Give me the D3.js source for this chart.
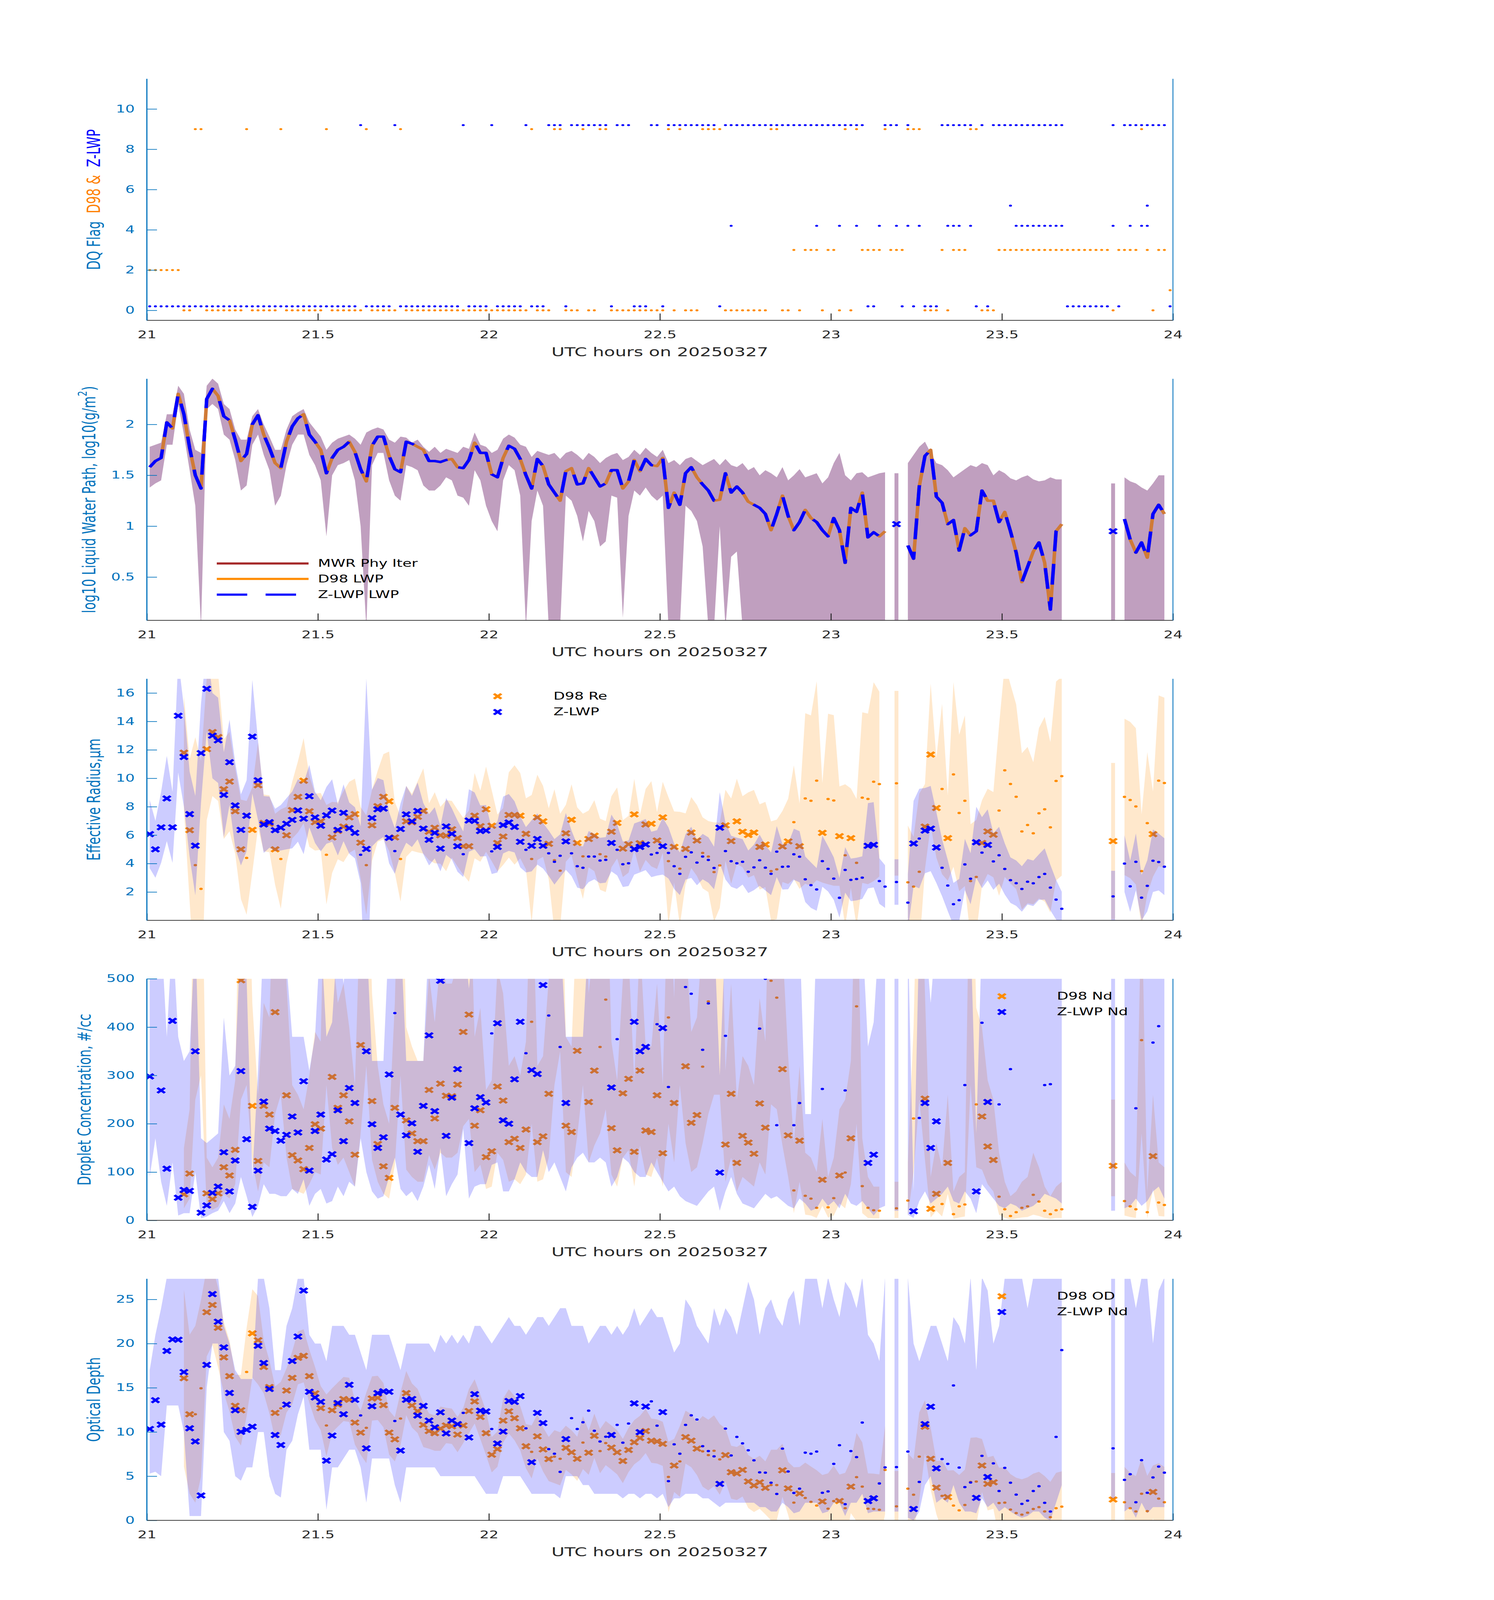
<!DOCTYPE html>
<html>
<head>
<meta charset="utf-8">
<title>DQ flag, LWP, Re, Nd and OD, 20250327</title>
<script src="https://cdn.jsdelivr.net/npm/d3@7"></script>
<style>
  html, body { margin: 0; padding: 0; background: #fff; overflow: hidden; }
  svg { display: block; }
</style>
</head>
<body>
<svg id="fig" width="3825" height="6000" viewBox="0 0 3825 6000" preserveAspectRatio="none"></svg>
<script>
// one sample per minute, 21:00 - 23:59 UTC (180 samples, index = minute)
const xTicks = [21, 21.5, 22, 22.5, 23, 23.5, 24];
const flagTicks = [0, 2, 4, 6, 8, 10];
const lwpTicks = [0.5, 1, 1.5, 2];
const reTicks = [2, 4, 6, 8, 10, 12, 14, 16];
const ndTicks = [0, 100, 200, 300, 400, 500];
const odTicks = [0, 5, 10, 15, 20, 25];

// data quality flags
const d98Flag = [
  2,2,2,2,2,2,0,0,9,9, 0,0,0,0,0,0,0,9,0,0, 0,0,0,9,0,0,0,0,0,0,
  0,9,0,0,0,0,0,0,9,0, 0,0,0,0,9,0,0,0,0,0, 0,0,0,0,0,0,0,0,0,0,
  0,0,0,0,0,0,0,9,0,0, 0,9,9,0,0,0,9,0,0,9, 9,0,0,0,0,0,0,0,0,0,
  0,9,0,9,0,0,0,9,9,9, 9,0,0,0,0,0,0,0,0,9, 9,0,0,3,0,3,3,3,0,3,
  3,0,9,0,9,3,3,3,3,9, 3,3,3,9,9,9,0,0,0,3, 0,3,3,3,9,9,0,0,0,3,
  3,3,3,3,3,3,3,3,3,3, 3,3,3,3,3,3,3,3,3,0, 3,3,3,3,9,3,0,3,3,1
];
const zFlag = [
  0,0,0,0,0,0,0,0,0,0, 0,0,0,0,0,0,0,0,0,0, 0,0,0,0,0,0,0,0,0,0,
  0,0,0,0,0,0,0,9,0,0, 0,0,0,9,0,0,0,0,0,0, 0,0,0,0,0,9,0,0,0,0,
  9,0,0,0,0,0,9,0,0,0, 9,9,9,0,9,9,9,9,9,9, 9,0,9,9,9,0,0,0,9,9,
  0,9,9,9,9,9,9,9,9,9, 0,9,4,9,9,9,9,9,9,9, 9,9,9,9,9,9,9,4,9,9,
  9,4,9,9,4,9,0,0,4,9, 9,4,0,4,0,4,0,0,0,9, 4,4,4,9,4,0,9,0,9,9,
  9,5,4,4,4,4,4,4,4,4, 4,0,0,0,0,0,0,0,0,9, 0,9,9,9,9,9,9,9,9,0
];
// minutes where Z-LWP carries a second flag
const zFlagExtraMin = [102,117,121,124,131,133,140,141,142,144,151,152,153,154,155,156,157,158,159,160,169,172,174,175,175];
const zFlagExtraVal = [9,9,9,9,9,9,9,9,9,9,9,9,9,9,9,9,9,9,9,9,4,4,4,4,5];

// log10 liquid water path
const lwpD98 = [
  1.58,1.64,1.67,2.02,1.96,2.3,2.1,1.77,1.5,1.37,
  2.25,2.35,2.28,2.08,2.04,1.85,1.64,1.71,2.0,2.09,
  1.9,1.77,1.62,1.57,1.83,1.98,2.06,2.1,1.9,1.83,
  1.75,1.52,1.67,1.75,1.78,1.83,1.73,1.56,1.44,1.79,
  1.88,1.88,1.69,1.56,1.53,1.83,1.81,1.78,1.75,1.64,
  1.64,1.63,1.65,1.66,1.58,1.57,1.65,1.82,1.72,1.72,
  1.51,1.48,1.67,1.79,1.76,1.66,1.5,1.37,1.66,1.59,
  1.41,1.33,1.25,1.54,1.57,1.41,1.42,1.57,1.48,1.39,
  1.42,1.55,1.55,1.37,1.44,1.65,1.54,1.66,1.6,1.59,
  1.67,1.18,1.33,1.21,1.52,1.58,1.48,1.41,1.35,1.25,
  1.26,1.52,1.33,1.39,1.33,1.24,1.21,1.18,1.12,0.96,
  1.12,1.3,1.1,0.96,1.04,1.16,1.08,1.04,0.96,0.9,
  1.08,0.96,0.64,1.18,1.14,1.33,0.89,0.94,0.9,0.95,
  null,null,null,0.81,0.68,1.39,1.69,1.75,1.29,1.23,
  1.02,1.06,0.76,0.98,0.91,0.95,1.35,1.25,1.25,1.04,
  1.14,0.95,0.74,0.45,0.6,0.75,0.84,0.64,0.18,0.95,
  1.02,null,null,null,null,null,null,null,null,null,
  null,1.07,0.87,0.74,0.84,0.69,1.12,1.21,1.12,null
];
const lwpZ = [
  1.58,1.64,1.67,2.02,1.96,2.3,2.1,1.77,1.5,1.37,
  2.25,2.35,2.28,2.08,2.04,1.85,1.64,1.71,2.0,2.09,
  1.9,1.77,1.62,1.57,1.83,1.98,2.06,2.1,1.9,1.83,
  1.75,1.52,1.67,1.75,1.78,1.83,1.73,1.56,1.44,1.79,
  1.88,1.88,1.69,1.56,1.53,1.83,1.81,1.78,1.75,1.64,
  1.64,1.63,1.65,1.66,1.58,1.57,1.65,1.82,1.72,1.72,
  1.51,1.48,1.67,1.79,1.76,1.66,1.5,1.37,1.66,1.59,
  1.41,1.33,1.25,1.54,1.57,1.41,1.42,1.57,1.48,1.39,
  1.42,1.55,1.55,1.37,1.44,1.65,1.54,1.66,1.6,1.59,
  1.67,1.18,1.33,1.21,1.52,1.58,1.48,1.41,1.35,1.25,
  1.26,1.52,1.33,1.39,1.33,1.24,1.21,1.18,1.12,0.96,
  1.12,1.3,1.1,0.96,1.04,1.16,1.08,1.04,0.96,0.9,
  1.08,0.96,0.64,1.18,1.14,1.33,0.89,0.94,0.9,0.95,
  null,1.02,null,0.81,0.68,1.39,1.69,1.75,1.29,1.23,
  1.02,1.06,0.76,0.98,0.91,0.95,1.35,1.25,1.25,1.04,
  1.14,0.95,0.74,0.45,0.6,0.75,0.84,0.64,0.18,0.95,
  1.02,null,null,null,null,null,null,null,null,0.95,
  null,1.07,0.87,0.74,0.84,0.69,1.12,1.21,1.12,null
];
const lwpHi = [
  1.78,1.8,1.82,2.1,2.1,2.38,2.3,1.95,1.75,1.72,
  2.38,2.45,2.4,2.2,2.15,1.95,1.85,1.85,2.08,2.15,
  2.0,1.88,1.75,1.75,1.95,2.08,2.12,2.15,2.02,1.95,
  1.88,1.75,1.82,1.86,1.88,1.9,1.86,1.8,1.92,1.95,
  1.97,1.95,1.85,1.82,1.88,1.87,1.82,1.85,1.78,1.73,
  1.78,1.72,1.76,1.74,1.72,1.78,1.76,1.92,1.8,1.78,
  1.72,1.75,1.86,1.9,1.87,1.8,1.78,1.68,1.74,1.72,
  1.7,1.72,1.66,1.72,1.74,1.7,1.65,1.72,1.68,1.62,
  1.67,1.7,1.72,1.65,1.68,1.75,1.7,1.77,1.72,1.68,
  1.75,1.62,1.65,1.6,1.66,1.68,1.64,1.6,1.63,1.66,
  1.6,1.66,1.6,1.58,1.62,1.55,1.58,1.5,1.55,1.52,
  1.48,1.58,1.45,1.5,1.56,1.48,1.5,1.52,1.42,1.48,
  1.62,1.72,1.5,1.45,1.52,1.53,1.48,1.5,1.52,1.53,
  null,1.52,null,1.62,1.7,1.78,1.83,1.72,1.62,1.6,
  1.55,1.48,1.52,1.56,1.6,1.58,1.62,1.6,1.5,1.55,
  1.52,1.47,1.45,1.48,1.5,1.46,1.44,1.45,1.48,1.46,
  1.46,null,null,null,null,null,null,null,null,1.42,
  null,1.48,1.44,1.42,1.38,1.35,1.42,1.5,1.5,null
];
const lwpLo = [
  1.38,1.42,1.45,1.8,1.8,2.2,1.9,1.55,1.2,0,
  2.15,2.2,2.15,1.9,1.85,1.65,1.35,1.4,1.8,1.9,
  1.7,1.55,1.2,1.3,1.6,1.8,1.9,1.9,1.7,1.6,
  1.45,0.9,1.5,1.6,1.62,1.65,1.45,1.0,0,1.6,
  1.72,1.72,1.45,1.3,1.25,1.6,1.58,1.55,1.4,1.35,
  1.35,1.4,1.48,1.45,1.3,1.28,1.2,1.55,1.45,1.2,
  1.05,0.95,1.45,1.6,1.55,1.3,0,1.05,1.35,1.2,
  0,0,0,1.3,1.25,1.1,0.85,1.15,1.05,0.8,
  0.85,1.3,1.28,0.1,1.1,1.35,1.3,1.38,1.3,1.25,
  1.3,0,0,0,1.2,1.15,1.05,0.8,0,0,
  1.0,0,0.7,0.75,0,0,0,0,0,0,
  0,0,0,0,0,0,0,0,0,0,
  0,0,0,0,0,0,0,0,0,0,
  null,0,null,0,0,0,0,0,0,0,
  0,0,0,0,0,0,0,0,0,0,
  0,0,0,0,0,0,0,0,0,0,
  0,null,null,null,null,null,null,null,null,0,
  null,0,0,0,0,0,0,0,0,null
];

// effective radius (um) and its uncertainty
const reD98 = [
  null,null,null,null,null,null,11.8,6.35,3.89,2.22,
  12.05,13.25,12.9,9.23,9.77,7.68,5.0,4.4,6.37,9.51,
  6.86,6.8,5.0,4.32,5.99,7.76,8.69,9.83,7.68,6.91,
  6.97,4.62,5.84,6.3,6.6,7.25,7.48,5.47,3.89,6.69,
  8.04,8.7,8.38,5.84,4.32,6.97,6.9,7.29,7.7,6.24,
  6.52,5.99,5.96,6.41,5.79,5.22,5.22,7.37,6.63,7.82,
  6.66,5.45,5.9,7.42,7.42,7.37,6.09,4.32,7.25,6.97,
  5.39,4.23,3.5,6.13,7.08,5.45,4.51,5.73,5.96,4.66,
  4.49,6.24,6.86,5.05,5.36,7.46,5.43,6.75,6.8,5.62,
  7.25,4.17,5.17,3.64,5.03,6.18,5.62,4.75,4.49,3.4,
  3.87,6.69,5.58,6.97,6.24,6.01,6.18,5.17,5.34,3.47,
  3.59,5.2,5.56,6.91,5.22,8.58,8.42,9.83,6.16,8.54,
  8.44,5.93,4.58,5.79,4.05,8.64,8.55,9.76,9.59,null,
  null,9.65,null,2.68,2.38,3.42,6.6,11.67,7.91,9.25,
  5.79,10.27,7.56,8.42,2.77,3.06,5.45,6.26,6.03,7.73,
  10.56,9.6,8.7,6.26,6.71,6.13,7.54,7.82,6.55,9.81,
  10.15,null,null,null,null,null,null,null,null,5.58,
  null,8.69,8.47,8.02,3.47,6.84,6.07,9.83,9.67,null
];
const reD98Unc = [
  null,null,null,null,null,null,4,5,9,9,
  5,4.5,4.5,3.5,3.5,3,3.5,4,3,3,
  2,2,2.5,3.5,2,2,2.5,3,2.5,2,
  2,3.5,2.5,2,2.5,2.5,2.5,2.5,3.5,2.5,
  2.5,3,3.5,2.5,3,2.5,2,2.5,3,2,
  2.5,2,2.5,2,2,2,2.5,3,2.5,3,
  2.5,2,2,3,3.5,3,2.5,4.5,3,2.5,
  2.5,5,4,2,2.5,2.5,3,2,2.5,2.5,
  2.5,2.5,2.5,2,2,2.5,2,2.5,3,2,
  2.5,4.5,2.5,4,2.5,2.5,2.5,2.5,2.5,3.5,
  3,2.5,3,3,2.5,3,3,3,3,3.5,
  3.5,2.5,3,4,3,6,6,7,3.5,6,
  6,3.5,5,3.5,4.5,6,6,7,6.5,null,
  null,6.5,null,4,3.5,5.5,3,5,3.5,6,
  3,6.5,5.5,6,4,4,3,3,3,6,
  7.5,7,6.5,5.5,5.5,5,6,6.5,6,7,
  7,null,null,null,null,null,null,null,null,5.5,
  null,5.5,5.5,5.5,4,5,3,6,6,null
];
const reZ = [
  6.07,5.0,6.55,8.58,6.55,14.4,11.5,7.48,5.26,11.77,
  16.3,13.0,12.67,8.83,11.13,8.09,6.37,7.37,12.93,9.86,
  6.75,6.91,6.35,6.52,6.8,7.07,7.74,7.16,8.74,7.25,
  6.66,7.39,7.73,6.37,7.57,6.49,6.16,4.62,5.03,7.2,
  7.82,7.87,5.81,4.88,6.43,7.46,6.97,7.7,6.46,5.67,
  6.16,5.05,6.61,6.09,5.22,4.66,7.03,7.0,6.29,6.32,
  4.86,5.17,6.71,6.89,6.58,5.53,4.97,5.25,5.73,5.25,
  4.72,4.12,4.55,5.56,4.72,3.81,3.7,4.49,4.49,4.21,
  4.26,5.45,4.97,3.95,4.02,5.02,5.17,5.34,4.64,4.75,
  5.22,4.75,3.81,3.28,4.47,4.79,4.07,4.49,4.25,3.69,
  6.52,4.88,4.16,4.02,4.12,3.42,3.73,4.23,3.71,3.28,
  4.84,3.77,3.79,4.65,4.48,2.89,2.48,2.18,4.17,3.63,
  2.94,1.59,3.55,2.85,2.91,3.01,5.25,5.32,2.77,2.38,
  null,2.7,null,1.25,5.41,5.76,6.32,6.46,5.13,3.7,
  2.45,1.14,1.42,3.94,2.93,5.5,4.77,5.31,4.15,4.58,
  3.62,2.83,2.62,2.21,2.72,2.61,3.05,3.27,2.31,1.46,
  0.82,null,null,null,null,null,null,null,null,1.69,
  null,4.0,2.4,4.12,1.6,2.43,4.2,4.11,3.78,null
];
const reZUnc = [
  2.4,2,2.5,3,2.5,4,3.5,3,3.5,3.5,
  3,3,3,3,3,3,2.5,2.5,4,2.8,
  2,1.8,1.5,1.6,1.8,2,2.2,2.5,2.2,1.8,
  1.8,2,2.2,1.8,2,1.8,1.8,2,12,2,
  2.2,2,1.8,1.6,1.8,2,1.8,2,1.8,1.8,
  1.8,1.6,2,1.8,1.8,1.6,2.2,2,1.8,1.8,
  1.6,1.8,2,2,1.8,1.8,1.6,1.8,1.8,1.6,
  1.6,1.6,1.5,2,1.6,1.5,1.5,1.8,1.6,1.6,
  1.6,2,1.8,1.6,1.6,1.8,1.8,1.8,1.6,1.6,
  2,1.8,1.6,1.5,1.6,1.8,1.6,1.6,1.6,1.5,
  2.5,2,1.8,1.8,1.6,1.5,1.6,1.8,1.6,1.5,
  1.8,1.6,1.6,1.8,1.8,1.6,1.6,1.5,1.8,1.6,
  1.5,1.4,1.6,1.5,1.5,1.5,3,3,1.6,1.5,
  null,1.6,null,2,3,3.5,3,3,2.5,2,
  1.8,1.5,1.5,1.8,1.8,2.5,2.5,2.5,2,2,
  1.8,1.6,1.6,1.6,1.6,1.6,1.6,1.8,1.6,1.4,
  1.2,null,null,null,null,null,null,null,null,1.8,
  null,2,1.8,2,1.6,1.8,2.2,2,2,null
];

// droplet number concentration (#/cc) with band limits
const ndD98 = [
  null,null,null,null,null,null,54,97,600,700,
  56,44,56,110,93,146,497,600,237,123,
  237,219,431,550,259,135,124,106,150,199,
  190,600,297,233,259,205,136,363,700,247,
  158,112,88,233,650,207,180,164,164,270,
  211,283,258,257,281,390,426,196,228,131,
  143,277,248,162,169,150,188,411,162,174,
  262,600,800,196,183,351,600,245,310,359,
  457,191,145,263,293,142,310,186,183,259,
  139,420,243,600,319,202,218,318,453,550,
  540,157,262,119,175,161,138,242,192,496,
  461,313,176,62,165,51,45,26,84,27,
  46,93,99,170,443,71,26,21,20,null,
  null,25,null,41,211,520,252,24,55,34,
  119,13,29,33,600,240,215,153,125,49,
  23,9,17,26,29,53,39,20,13,21,
  23,null,null,null,null,null,null,null,null,113,
  null,40,29,23,373,17,133,37,32,null
];
const ndD98Lo = [
  null,null,null,null,null,null,25,45,250,300,
  28,22,28,55,45,75,250,280,120,60,
  120,110,220,260,130,65,60,55,75,100,
  95,280,150,115,130,100,70,180,320,125,
  80,55,45,115,300,105,90,80,80,135,
  105,140,130,130,140,195,210,100,115,65,
  70,140,125,80,85,75,95,200,80,85,
  130,280,350,100,90,175,280,120,155,180,
  230,95,70,130,145,70,155,95,90,130,
  70,200,120,280,160,100,110,160,220,260,
  260,80,130,60,90,80,70,120,95,240,
  230,155,90,15,80,12,10,5,30,6,
  10,35,25,75,200,15,5,4,4,null,
  null,5,null,8,100,250,125,6,20,8,
  55,3,6,8,280,110,105,75,60,12,
  5,2,4,6,7,12,9,5,3,5,
  5,null,null,null,null,null,null,null,null,50,
  null,10,7,5,180,4,65,9,8,null
];
const ndD98Hi = [
  null,null,null,null,null,null,150,230,900,900,
  130,110,130,240,210,290,900,900,450,260,
  450,420,800,900,490,280,260,230,300,390,
  370,900,560,450,490,400,280,680,900,470,
  320,240,200,450,900,400,360,330,330,510,
  410,540,490,490,530,720,780,380,440,270,
  290,520,470,320,340,300,370,760,320,340,
  500,900,900,380,360,650,900,470,580,660,
  820,370,290,500,550,290,580,360,360,490,
  280,750,460,900,590,390,420,590,820,900,
  900,310,490,250,340,320,280,460,370,880,
  830,570,340,160,320,140,130,100,210,90,
  130,230,250,330,800,170,90,70,70,null,
  null,80,null,120,400,900,470,90,160,110,
  260,60,90,100,900,440,400,290,250,140,
  80,50,60,80,90,140,110,70,50,70,
  80,null,null,null,null,null,null,null,null,250,
  null,120,100,90,680,60,260,120,110,null
];
const ndZ = [
  298,560,269,107,413,47,63,61,350,16,
  31,57,70,141,60,124,309,168,28,103,
  246,190,185,165,177,215,182,288,103,185,
  219,126,137,228,164,274,243,560,350,199,
  150,172,302,429,219,176,201,142,237,383,
  226,496,175,254,313,620,160,232,255,244,
  387,408,207,200,292,411,346,311,303,487,
  424,650,359,243,600,800,900,700,700,750,
  650,275,375,700,650,411,350,359,600,406,
  398,276,600,800,483,469,600,353,449,700,
  99,382,600,650,600,800,700,397,500,800,
  197,700,650,197,243,900,1000,1200,272,700,
  900,2000,269,900,800,700,119,136,900,1000,
  null,800,null,3000,19,212,243,150,205,600,
  1000,3000,2500,280,900,60,409,245,550,240,
  600,313,900,1000,900,900,700,280,282,1500,
  5000,null,null,null,null,null,null,null,null,2000,
  null,700,1200,232,1500,900,368,402,600,null
];
const ndZLo = [
  90,170,80,30,120,10,15,15,100,4,
  8,15,20,40,15,35,90,50,7,30,
  75,55,55,50,50,65,55,85,30,55,
  65,35,40,70,50,80,70,170,100,60,
  45,50,90,130,65,50,60,40,70,115,
  65,150,50,75,95,190,45,70,75,75,
  115,120,60,60,85,120,100,90,90,145,
  100,120,90,60,110,130,140,120,120,130,
  120,70,90,130,120,100,90,90,120,100,
  80,60,70,50,40,35,30,45,60,70,
  20,60,90,55,35,30,25,40,55,45,
  50,40,30,25,45,35,20,25,45,30,
  40,25,55,35,30,40,25,10,25,30,
  null,20,null,12,5,40,60,35,45,55,
  70,40,35,60,45,15,75,60,45,30,
  25,35,30,20,25,30,40,55,50,45,
  35,null,null,null,null,null,null,null,null,20,
  null,25,30,45,30,40,60,70,45,null
];
const ndZHi = [
  600,600,600,380,600,380,330,350,600,170,
  160,170,180,420,300,320,600,500,90,310,
  600,570,560,500,530,380,380,380,310,380,
  600,380,410,600,490,600,600,600,600,330,
  330,330,600,600,600,330,330,330,330,600,
  600,600,530,600,600,600,480,600,600,600,
  600,600,600,600,600,600,600,600,600,600,
  600,600,600,380,380,380,380,600,600,600,
  600,600,600,600,600,600,600,600,600,600,
  600,600,600,600,600,600,600,600,600,600,
  300,600,600,600,600,600,600,600,600,600,
  590,600,600,590,600,220,220,600,600,600,
  600,600,600,600,600,600,360,410,600,600,
  null,600,null,600,60,600,600,450,600,600,
  600,600,600,600,600,180,600,600,600,600,
  600,600,600,600,600,600,600,600,600,600,
  600,null,null,null,null,null,null,null,null,600,
  null,600,600,600,600,600,600,600,600,null
];

// optical depth with band limits
const odD98 = [
  null,null,null,null,null,null,16.09,12.01,12.01,14.95,
  23.55,24.37,21.79,18.44,16.32,12.97,12.46,16.79,21.16,20.38,
  17.36,15.09,12.16,12.68,14.69,16.12,18.39,18.62,16.32,14.37,
  12.7,10.74,12.46,13.1,13.73,13.64,11.07,9.93,10.47,13.79,
  13.86,13.04,9.93,9.17,11.52,14.4,13.0,12.37,10.8,10.11,
  9.87,10.38,10.74,10.65,9.71,10.74,12.37,13.46,11.7,9.87,
  7.43,8.06,11.29,12.34,11.56,10.42,8.39,7.75,9.51,8.03,
  6.94,7.21,6.97,8.21,7.7,6.97,8.8,7.66,9.57,7.84,
  8.75,8.24,7.7,6.72,7.97,8.84,9.33,10.11,9.02,8.93,
  8.66,4.91,6.21,6.67,9.42,9.02,8.12,7.81,7.39,7.88,
  6.9,7.39,5.45,5.31,5.71,4.4,3.95,4.31,3.68,4.0,
  4.0,5.67,3.62,2.01,3.04,2.54,2.1,1.68,2.14,1.32,
  2.19,2.19,1.38,3.82,4.89,3.82,1.32,1.29,1.2,5.71,
  null,1.59,null,3.59,2.9,7.21,10.6,6.97,3.71,2.77,
  2.64,1.68,1.14,1.74,4.35,4.4,6.21,4.13,4.31,1.96,
  2.01,1.23,0.83,0.65,0.87,1.29,1.5,1.01,0.36,1.38,
  1.56,null,null,null,null,null,null,null,null,2.36,
  null,2.05,1.38,1.01,3.01,1.05,3.22,2.46,2.05,null
];
const odD98Unc = [
  null,null,null,null,null,null,10,9,10,10,
  5,4.5,4.5,4,4,3.5,4,5,5,5,
  3,3,3,3,2.5,3,3,3,3,3,
  2.5,3.5,2.5,2.5,2.5,2.5,2.5,2.5,4,2.5,
  2.5,2.5,2.5,2.5,3,2.5,2.5,2.5,2.5,2,
  2,2.5,2,2,2,2,2.5,2.5,2.5,2.5,
  2,2,2.5,2.5,2.5,2.5,2.5,3,2.5,2.5,
  2.5,3,3,2.5,2.5,2.5,3,2.5,2.5,2.5,
  2.5,2.5,2.5,2.5,2.5,2.5,2.5,2.5,2.5,2.5,
  2.5,4,3,4,3,3,3,4,4,4,
  4,3,3,3,3,3,3,3,3,4,
  4,3,3,4,3,4,4,4,3,4,
  4,3,4,3,5,5,4,4,4,5,
  null,4,null,4,4,5,3,3.5,3,4,
  3,4,4,4,5,5,3,3,3,4,
  4,4,4,4,4,4,4,4,4,4,
  4,null,null,null,null,null,null,null,null,3,
  null,4,4,4,4,4,3,4,4,null
];
const odZ = [
  10.34,13.6,10.83,19.17,20.47,20.43,16.78,10.42,8.93,2.82,
  17.59,25.6,22.48,19.57,14.42,12.46,10.02,10.24,10.6,19.75,
  17.81,14.87,9.66,8.53,13.1,18.03,20.8,26.0,14.55,13.91,
  13.41,6.76,9.6,13.28,12.01,15.34,13.64,11.87,8.15,12.92,
  14.4,14.6,14.55,11.25,7.9,13.64,13.73,11.87,12.95,11.29,
  10.53,12.23,9.84,11.29,10.89,12.16,9.38,14.28,12.41,12.32,
  10.34,8.7,10.05,13.51,13.41,14.06,10.42,6.58,12.16,11.01,
  8.06,7.54,5.49,9.2,11.56,10.34,11.1,12.41,10.14,8.93,
  9.47,9.66,10.8,8.79,10.96,13.24,9.98,12.88,13.46,10.71,
  12.25,4.44,8.6,7.54,10.8,11.88,11.41,8.39,7.84,7.25,
  4.13,10.38,7.34,9.44,8.71,7.93,6.79,5.43,5.4,4.26,
  2.99,8.12,5.53,3.1,3.59,7.66,7.54,7.79,3.13,3.28,
  6.39,8.51,1.83,7.84,7.16,11.07,2.19,2.5,4.18,6.0,
  null,6.03,null,7.79,1.29,4.35,10.89,12.86,5.89,6.94,
  6.39,15.27,5.98,3.77,4.28,2.55,7.3,4.91,6.45,3.32,
  5.94,4.26,2.92,1.87,2.23,3.32,3.86,1.99,1.0,9.44,
  19.26,null,null,null,null,null,null,null,null,8.15,
  null,4.58,5.22,2.05,6.81,3.13,4.86,6.09,5.4,null
];
const odZLo = [
  5.3,5.5,5,13,13,13,10,0.5,0.5,0.5,
  15,20,20,10,9,5,4.5,6,6,10,
  10,5,3,2.6,8,9,12,14,8,8,
  8,1.2,6,6,7,8,8,6,2,7,
  7,7,7,4,2,6,6,6,6,6,
  6,5,5,5,5,5,5,5,4,3,
  3,3,5,5,5,5,4,3,3,3,
  3,3,2.5,5,5,5,4,4,3,3,
  3,3,3,2.5,3,3,2.5,3,3,2.5,
  3,1.5,2.5,2.5,3,3,3,2.5,2.5,2,
  1.5,2,2,2,2,2,2,1.5,1.5,1,
  1,2,1.5,0.8,1,2,2,2,0.8,1,
  2,2,0.5,2,2,3,0.8,1,1,1,
  null,1,null,0.3,0,1,4,5,2,2.5,
  2,4,2,1,1,0.8,2.5,1.5,2,1,
  1.5,1,0.6,0.3,0.5,1,1,0.3,0,2,
  4,null,null,null,null,null,null,null,null,2.5,
  null,1,1.5,0.3,2,0.8,1.5,1.5,1.5,null
];
const odZHi = [
  17,21,24,27.5,27.5,27.5,27.5,27.5,27.5,27.5,
  27.5,27.5,27.5,22,20,17,16,16,16,27.5,
  27.5,24,17,17,22,24,27.5,27.5,21,20,
  20,18,22,22,22,21,21,19,17,21,
  21,21,21,19,17,20,20,20,20,20,
  19,21,20,21,20,21,20,22,22,21,
  20,21,22,23,22,22,21,22,23,23,
  22,23,24,24,22,22,22,20,21,22,
  22,21,22,21,22,24,22,23,24,23,
  23,21,19,20,25,24,22,21,20,24,
  22,24,23,21,24,27,25,21,24,25,
  23,22,25,26,22,27.5,27.5,27.5,24,27.5,
  25,23,27,26,24,27.5,21,20,18,27.5,
  null,27.5,null,27.5,20,18,20,22,22,20,
  18,23,22,20,27.5,17,27.5,26,20,22,
  27.5,27.5,27.5,27.5,24,27.5,27.5,27.5,27.5,27.5,
  27.5,null,null,null,null,null,null,null,null,27.5,
  null,27.5,27.5,24,27.5,27.5,20,26,27.5,null
];

// ---------------------------------------------------------------
const svg = d3.select("#fig");
// the figure is 3825 x 6000; if the window is smaller, fit the whole figure into it
const winW = window.innerWidth || 3825, winH = window.innerHeight || 6000;
svg.attr("width", winW).attr("height", winH);

const FONT = "DejaVu Sans";
const orange = "#ff8c00", blue = "#0000ff", axBlue = "#0072bd", dark = "#262626";
const axLeft = 376, axRight = 3003, axH = 906;
const tops = [295.5, 1420.5, 2545.5, 3670.5, 4795.5];
const MS = 9.5, MW = 7.5;   // x-marker half size and stroke

const idx = d3.range(180);
const times = idx.map(i => 21 + (i + 0.5) / 60);
const x = d3.scaleLinear().domain([21, 24]).range([axLeft, axRight]);

function panel(k, domain, ticks) {
  const top = tops[k], bottom = top + axH;
  const y = d3.scaleLinear().domain(domain).range([bottom, top]);
  const g = svg.append("g");
  g.append("clipPath").attr("id", "clip" + k)
    .append("rect")
    .attr("x", axLeft).attr("y", top)
    .attr("width", axRight - axLeft).attr("height", axH);
  const plot = g.append("g").attr("clip-path", "url(#clip" + k + ")");

  // x axis, ticks point inwards
  const xa = g.append("g")
    .attr("transform", "translate(0," + bottom + ")")
    .call(d3.axisBottom(x).tickValues(xTicks).tickFormat(d => String(d))
      .tickSize(-26).tickPadding(40));
  xa.select(".domain").remove();
  xa.attr("font-size", 38).attr("font-family", FONT);
  xa.selectAll("line").attr("stroke", dark).attr("stroke-width", 2.5);
  xa.selectAll("text").attr("fill", dark);

  const ya = g.append("g")
    .attr("transform", "translate(" + axLeft + ",0)")
    .call(d3.axisLeft(y).tickValues(ticks).tickFormat(d => String(d))
      .tickSize(-26).tickPadding(31));
  ya.select(".domain").remove();
  ya.attr("font-size", 38).attr("font-family", FONT);
  ya.selectAll("line").attr("stroke", axBlue).attr("stroke-width", 2.5);
  ya.selectAll("text").attr("fill", axBlue);

  g.append("line")
    .attr("x1", axLeft).attr("x2", axRight).attr("y1", bottom).attr("y2", bottom)
    .attr("stroke", dark).attr("stroke-width", 2.5);
  g.append("line")
    .attr("x1", axLeft).attr("x2", axLeft).attr("y1", top).attr("y2", bottom)
    .attr("stroke", axBlue).attr("stroke-width", 3);
  g.append("line")
    .attr("x1", axRight).attr("x2", axRight).attr("y1", top).attr("y2", bottom)
    .attr("stroke", axBlue).attr("stroke-width", 3).attr("stroke-opacity", 0.75);

  g.append("text")
    .attr("x", (axLeft + axRight) / 2).attr("y", bottom + 118)
    .attr("text-anchor", "middle").attr("dominant-baseline", "central")
    .attr("font-family", FONT).attr("font-size", 46).attr("fill", dark)
    .text("UTC hours on 20250327");

  const labelX = axLeft + ya.node().getBBox().x - 57;
  const ylab = g.append("text")
    .attr("transform", "translate(" + labelX + "," + (top + bottom) / 2 + ") rotate(-90)")
    .attr("text-anchor", "middle").attr("dominant-baseline", "central")
    .attr("font-family", FONT).attr("font-size", 46).attr("fill", axBlue)
    .style("white-space", "pre");
  return { g, plot, y, top, bottom, ylab };
}

function xPath(cx, cy, s) {
  return "M" + (cx - s) + "," + (cy - s) + "L" + (cx + s) + "," + (cy + s) +
         "M" + (cx - s) + "," + (cy + s) + "L" + (cx + s) + "," + (cy - s);
}

function band(p, lo, hi, color, op) {
  const ok = i => lo[i] != null && hi[i] != null;
  const area = d3.area().defined(ok)
    .x(i => x(times[i])).y0(i => p.y(lo[i])).y1(i => p.y(hi[i]));
  p.plot.append("path").datum(idx)
    .attr("d", area).attr("fill", color).attr("fill-opacity", op);
  // a lone sample still shows as a narrow strip
  p.plot.selectAll(null)
    .data(idx.filter(i => ok(i) && !ok(i - 1) && !ok(i + 1)))
    .join("rect")
    .attr("x", i => x(times[i]) - 5).attr("width", 10)
    .attr("y", i => p.y(hi[i])).attr("height", i => p.y(lo[i]) - p.y(hi[i]))
    .attr("fill", color).attr("fill-opacity", op);
}

// good samples (flag 0) as bold x, flagged ones as dots
function markers(p, vals, flags, color) {
  const have = idx.filter(i => vals[i] != null);
  p.plot.selectAll(null)
    .data(have.filter(i => flags[i] === 0))
    .join("path")
    .attr("d", i => xPath(x(times[i]), p.y(vals[i]), MS))
    .attr("stroke", color).attr("stroke-width", MW).attr("fill", "none");
  p.plot.selectAll(null)
    .data(have.filter(i => flags[i] !== 0))
    .join("circle")
    .attr("cx", i => x(times[i])).attr("cy", i => p.y(vals[i])).attr("r", 4.4)
    .attr("fill", color);
}

const withUnc = (vals, unc, sign) =>
  vals.map((v, i) => v == null || unc[i] == null ? null : v + sign * unc[i]);

function markerLegend(p, lx, tx, rows) {
  rows.forEach(r => {
    p.g.append("path").attr("d", xPath(lx, r.y, MS))
      .attr("stroke", r.color).attr("stroke-width", MW).attr("fill", "none");
    p.g.append("text").attr("x", tx).attr("y", r.y)
      .attr("dominant-baseline", "central")
      .attr("font-family", FONT).attr("font-size", 38).attr("fill", "#000")
      .text(r.label);
  });
}

// ---- panel 1: DQ flags
const p1 = panel(0, [-0.5, 11.5], flagTicks);
p1.ylab.append("tspan").text("DQ Flag  ");
p1.ylab.append("tspan").attr("fill", "#ff8000").text("D98 &  ");
p1.ylab.append("tspan").attr("fill", blue).text("Z-LWP");
p1.plot.selectAll(null).data(idx).join("circle")
  .attr("cx", i => x(times[i])).attr("cy", i => p1.y(d98Flag[i])).attr("r", 3.8)
  .attr("fill", orange);
p1.plot.selectAll(null).data(idx).join("circle")
  .attr("cx", i => x(times[i])).attr("cy", i => p1.y(zFlag[i] + 0.2)).attr("r", 3.8)
  .attr("fill", blue);
p1.plot.selectAll(null).data(zFlagExtraMin).join("circle")
  .attr("cx", m => x(times[m])).attr("cy", (m, j) => p1.y(zFlagExtraVal[j] + 0.2)).attr("r", 3.8)
  .attr("fill", blue);

// ---- panel 2: log10 LWP
const p2 = panel(1, [0.074, 2.448], lwpTicks);
p2.ylab.append("tspan").text("log10 Liquid Water Path, log10(g/m");
p2.ylab.append("tspan").attr("font-size", 32).attr("dy", -17).text("2");
p2.ylab.append("tspan").attr("dy", 17).text(")");
band(p2, lwpLo, lwpHi, "#c09fbf", 1);
const lwpLine = arr => d3.line().defined(i => arr[i] != null)
  .x(i => x(times[i])).y(i => p2.y(arr[i]));
p2.plot.append("path").datum(idx).attr("d", lwpLine(lwpD98))
  .attr("fill", "none").attr("stroke", "#d07a36").attr("stroke-width", 9)
  .attr("stroke-linejoin", "round");
p2.plot.append("path").datum(idx).attr("d", lwpLine(lwpZ))
  .attr("fill", "none").attr("stroke", blue).attr("stroke-width", 9)
  .attr("stroke-dasharray", "78 47").attr("stroke-linejoin", "round");
// lone Z-LWP samples
p2.plot.selectAll(null)
  .data(idx.filter(i => lwpZ[i] != null && lwpZ[i - 1] == null && lwpZ[i + 1] == null))
  .join("path")
  .attr("d", i => xPath(x(times[i]), p2.y(lwpZ[i]), MS))
  .attr("stroke", blue).attr("stroke-width", MW).attr("fill", "none");
// legend
const lwpLegend = [
  { label: "MWR Phy Iter", color: "#a52a2a", dash: null, y: 2113 },
  { label: "D98 LWP", color: orange, dash: null, y: 2171 },
  { label: "Z-LWP LWP", color: blue, dash: "78 47", y: 2230 }
];
lwpLegend.forEach(r => {
  p2.g.append("line").attr("x1", 555).attr("x2", 790).attr("y1", r.y).attr("y2", r.y)
    .attr("stroke", r.color).attr("stroke-width", 8).attr("stroke-dasharray", r.dash);
  p2.g.append("text").attr("x", 814).attr("y", r.y).attr("dominant-baseline", "central")
    .attr("font-family", FONT).attr("font-size", 38).attr("fill", "#000").text(r.label);
});

// ---- panel 3: effective radius
const p3 = panel(2, [0, 17], reTicks);
p3.ylab.text("Effective Radius,\u03bcm");
band(p3, withUnc(reD98, reD98Unc, -1), withUnc(reD98, reD98Unc, 1), orange, 0.2);
markers(p3, reD98, d98Flag, orange);
band(p3, withUnc(reZ, reZUnc, -1), withUnc(reZ, reZUnc, 1), blue, 0.2);
markers(p3, reZ, zFlag, blue);
markerLegend(p3, 1274, 1417, [
  { label: "D98 Re", color: orange, y: 2611 },
  { label: "Z-LWP", color: blue, y: 2670 }
]);

// ---- panel 4: droplet concentration
const p4 = panel(3, [0, 500], ndTicks);
p4.ylab.text("Droplet Concentration, #/cc");
band(p4, ndD98Lo, ndD98Hi, orange, 0.2);
markers(p4, ndD98, d98Flag, orange);
band(p4, ndZLo, ndZHi, blue, 0.2);
markers(p4, ndZ, zFlag, blue);
markerLegend(p4, 2565, 2706, [
  { label: "D98 Nd", color: orange, y: 3736 },
  { label: "Z-LWP Nd", color: blue, y: 3795 }
]);

// ---- panel 5: optical depth
const p5 = panel(4, [0, 27.33], odTicks);
p5.ylab.text("Optical Depth");
band(p5, withUnc(odD98, odD98Unc, -1), withUnc(odD98, odD98Unc, 1), orange, 0.2);
markers(p5, odD98, d98Flag, orange);
band(p5, odZLo, odZHi, blue, 0.2);
markers(p5, odZ, zFlag, blue);
markerLegend(p5, 2565, 2706, [
  { label: "D98 OD", color: orange, y: 4861 },
  { label: "Z-LWP Nd", color: blue, y: 4920 }
]);
</script>
</body>
</html>
